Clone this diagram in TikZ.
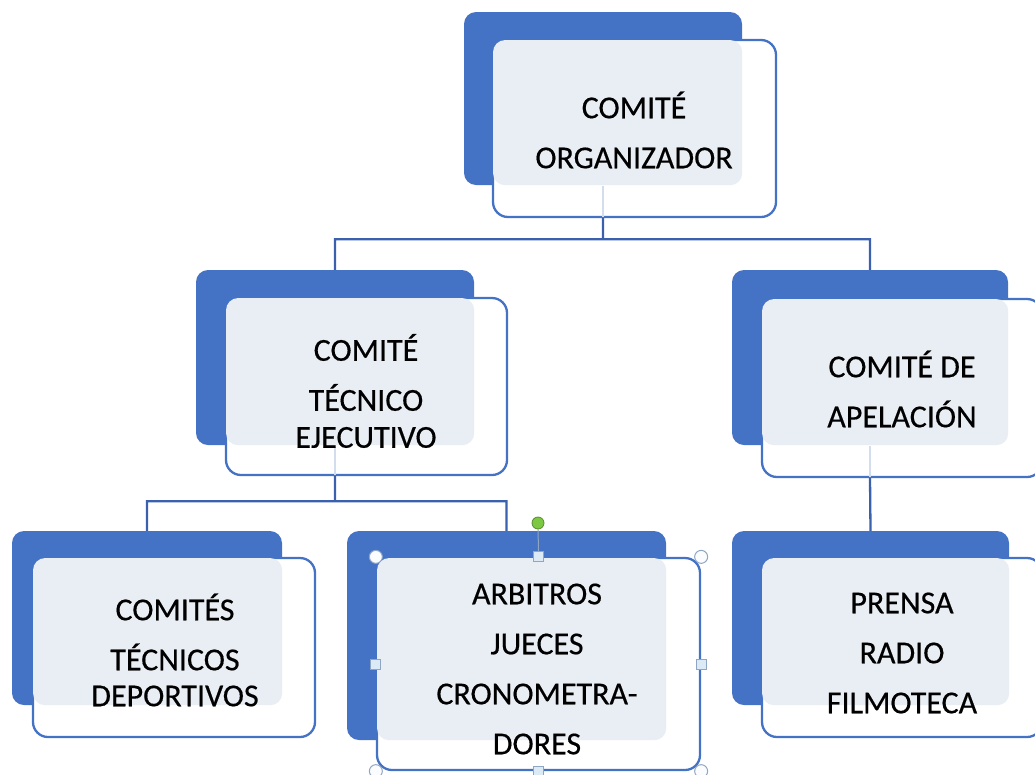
\documentclass[tikz,border=0pt]{standalone}
\usepackage{fontspec}
\setmainfont{Carlito}
\newfontfamily\boxfont[FakeBold=0.4]{Carlito}
\usepackage{xcolor}
\usetikzlibrary{positioning}

\definecolor{boxblue}{HTML}{4472C4}
\definecolor{boxlight}{HTML}{E9EDF4}
\definecolor{lineblue}{HTML}{3A60AE}
\definecolor{faintline}{HTML}{D3DDEE}
\definecolor{handlefill}{HTML}{DCEAF6}
\definecolor{handleedge}{HTML}{8EA6C4}
\definecolor{rotgreen}{HTML}{7DC843}

\tikzset{
    back/.style={rectangle, rounded corners=12pt, fill=boxblue, inner sep=0pt},
    front/.style={rectangle, rounded corners=15pt, fill=white, draw=boxblue, line width=2.3pt, inner sep=0pt},
    txt/.style={align=center, inner sep=0pt, font=\boxfont\fontsize{32}{50}\selectfont, text=black},
    conn/.style={draw=lineblue, line width=2.3pt},
    faint/.style={draw=faintline, line width=1.6pt},
    handlecirc/.style={circle, draw=handleedge, fill=white!85!handlefill, line width=1pt, minimum size=13pt, inner sep=0pt},
    handlesq/.style={rectangle, draw=handleedge, fill=handlefill, line width=1pt, minimum size=10pt, inner sep=0pt},
    handlerot/.style={circle, draw=rotgreen!70!black, fill=rotgreen, line width=0.8pt, minimum size=12pt, inner sep=0pt}
}

\begin{document}
\begin{tikzpicture}[x=1pt, y=-1pt]
                        \useasboundingbox (0, 0) rectangle (1035, 774);
                        \node[back, minimum width=278pt, minimum height=173pt] (ob) at (603, 98.5) {};
                        \node[back, minimum width=278pt, minimum height=175pt] (olb) at (335, 357.5) {};
                        \node[back, minimum width=276pt, minimum height=175pt] (orb) at (870, 357.5) {};
                        \node[back, minimum width=270pt, minimum height=174pt] (ollb) at (147, 618) {};
                        \node[back, minimum width=319pt, minimum height=209pt] (olrb) at (506.5, 635.5) {};
                        \node[back, minimum width=277pt, minimum height=174pt] (orlb) at (870.5, 618) {};
                        \node[front, minimum width=283pt, minimum height=177pt] (o) at (634.5, 128.5) {};
                        \node[front, minimum width=281pt, minimum height=177pt] (ol) at (366.5, 386.5) {};
                        \node[front, minimum width=280pt, minimum height=178pt] (or) at (902, 388) {};
                        \node[front, minimum width=282pt, minimum height=179pt] (oll) at (174, 647.5) {};
                        \node[front, minimum width=323pt, minimum height=212pt] (olr) at (538.5, 664) {};
                        \node[front, minimum width=280pt, minimum height=179pt] (orl) at (902, 647.5) {};
                        \foreach \f/\b in {o/ob, ol/olb, or/orb, oll/ollb, olr/olrb, orl/orlb}
                            \fill[boxlight, rounded corners=12pt] ([xshift=1.2pt, yshift=-1.2pt]\f.north west) rectangle (\b.south east);
                        \foreach \f/\b in {o/ob, ol/olb, or/orb}
                            \draw[faint] ([yshift=-1pt]\b.south) -- ([yshift=1.2pt]\b.south |- \f.south);
                        \node[txt] (ot) at (634, 130) {COMITÉ\\ORGANIZADOR};
                        \node[txt] (olt) at (366, 391) {COMITÉ\\TÉCNICO\\[-13pt]EJECUTIVO};
                        \node[txt] (ort) at (902, 389) {COMITÉ DE\\APELACIÓN};
                        \node[txt] (ollt) at (175, 650) {COMITÉS\\TÉCNICOS\\[-14pt]DEPORTIVOS};
                        \node[txt] (olrt) at (537, 669) {ARBITROS\\JUECES\\CRONOMETRA-\\DORES};
                        \node[txt] (orlt) at (902, 653) {PRENSA\\RADIO\\FILMOTECA};
                        \draw[conn]
                        (ob.south |- o.south) -- ++(0, 21) -| (olb.north)
                        (ob.south |- o.south) -- ++(0, 21) -| (orb.north)
                        (olb.south |- ol.south) -- ++(0, 25) -| (ollb.north)
                        (olb.south |- ol.south) -- ++(0, 25) -| (olrb.north)
                        (orb.south |- or.south) -- (orlb.north);
                        \node[handlerot] (rot) at (538, 523) {};
                        \draw[handleedge, line width=1pt] (rot) -- (olr.north);
                        \foreach \a/\n in {north west/1, north east/2, south west/3, south east/4}
                            \node[handlecirc] (hc\n) at (olr.\a) {};
                        \foreach \a/\n in {north/1, south/2, west/3, east/4}
                            \node[handlesq] (hs\n) at (olr.\a) {};
                    \end{tikzpicture}
\end{document}
